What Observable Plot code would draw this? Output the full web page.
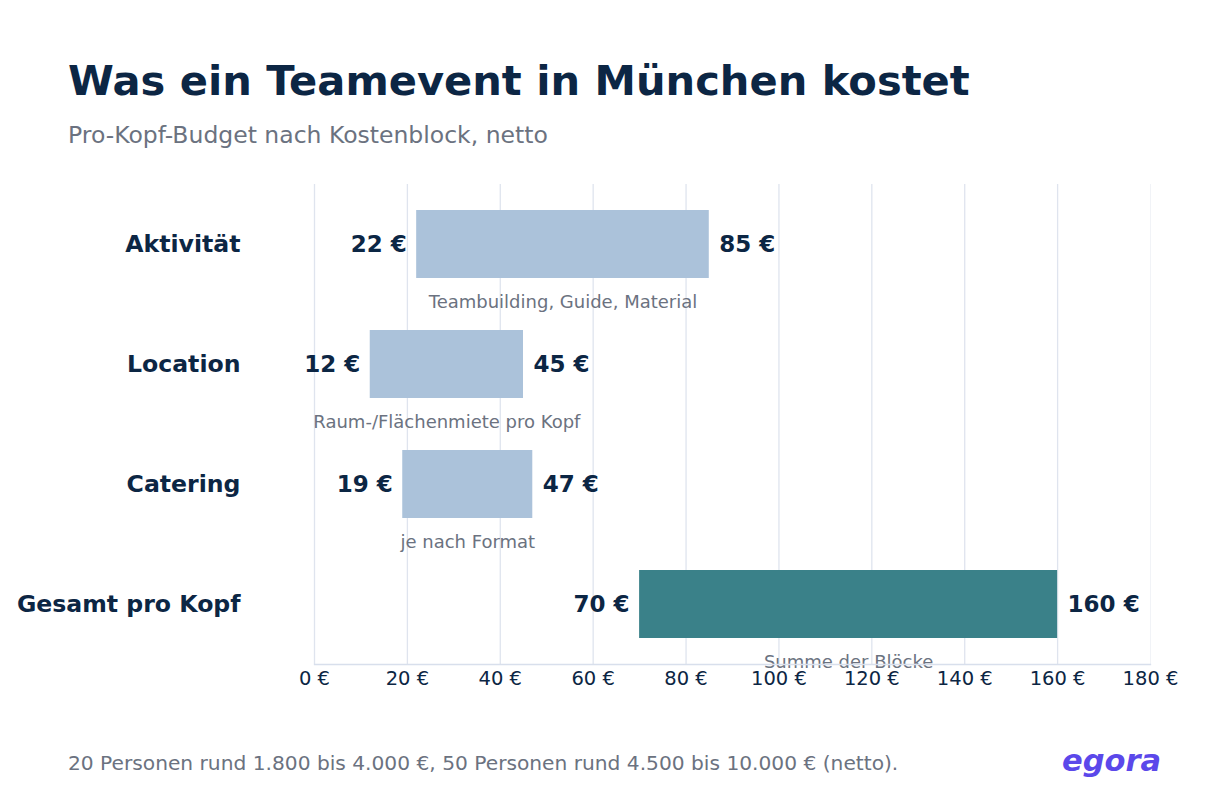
<!DOCTYPE html>
<html>
<head>
<meta charset="utf-8">
<script src="https://cdn.jsdelivr.net/npm/d3@7"></script>
<script src="https://cdn.jsdelivr.net/npm/@observablehq/plot@0.6"></script>
<style>
  html, body { margin: 0; padding: 0; background: #ffffff; }
  body { width: 1230px; height: 800px; position: relative; overflow: hidden; font-family: "DejaVu Sans", sans-serif; }
  #title { position: absolute; left: 68px; top: 56px; font-size: 41.6px; font-weight: bold; color: #0c2644; white-space: nowrap; }
  #subtitle { position: absolute; left: 68px; top: 121px; font-size: 23.5px; color: #6b7280; white-space: nowrap; }
  #chart { position: absolute; left: 0; top: 0; }
  #footer { position: absolute; left: 68px; top: 751px; font-size: 20.2px; color: #6b7280; white-space: nowrap; }
  #logo { position: absolute; left: 1062px; top: 743px; font-size: 30.5px; font-weight: bold; font-style: italic; color: #5b48ea; }
</style>
</head>
<body>
<div id="chart"></div>
<div id="title">Was ein Teamevent in München kostet</div>
<div id="subtitle">Pro-Kopf-Budget nach Kostenblock, netto</div>
<div id="footer">20 Personen rund 1.800 bis 4.000 €, 50 Personen rund 4.500 bis 10.000 € (netto).</div>
<div id="logo">egora</div>
<script>
const categories = ["Aktivität", "Location", "Catering", "Gesamt pro Kopf"];
const lowValues = [22, 12, 19, 70];
const highValues = [85, 45, 47, 160];
const notes = ["Teambuilding, Guide, Material", "Raum-/Flächenmiete pro Kopf", "je nach Format", "Summe der Blöcke"];
const barColors = ["#abc2da", "#abc2da", "#abc2da", "#3a8189"];
const xTicks = [0, 20, 40, 60, 80, 100, 120, 140, 160, 180];

const rows = categories.map((c, i) => ({
  cat: c, low: lowValues[i], high: highValues[i], note: notes[i], color: barColors[i]
}));

const navy = "#0c2644";
const gray = "#6b7280";

const chart = Plot.plot({
  width: 1230,
  height: 700,
  marginTop: 184,
  marginBottom: 36,
  marginLeft: 314,
  marginRight: 80,
  style: { fontFamily: "DejaVu Sans, sans-serif", background: "transparent", overflow: "visible" },
  x: { domain: [0, 180] },
  y: { domain: categories, padding: 0 },
  marks: [
    Plot.ruleX(xTicks.slice(0, -1), { stroke: "#dfe4ee", strokeWidth: 1.3 }),
    Plot.ruleX([180], { stroke: "#f1f3f7", strokeWidth: 1 }),
    Plot.barX(rows, {
      x1: "low", x2: "high", y: "cat", fill: "color",
      insetTop: 26, insetBottom: 26
    }),
    Plot.text(rows, {
      x: "low", y: "cat", text: d => `${d.low} €`, textAnchor: "end", dx: -10,
      fill: navy, fontSize: 23, fontWeight: "bold"
    }),
    Plot.text(rows, {
      x: "high", y: "cat", text: d => `${d.high} €`, textAnchor: "start", dx: 10,
      fill: navy, fontSize: 23, fontWeight: "bold"
    }),
    Plot.text(rows, {
      x: d => (d.low + d.high) / 2, y: "cat", text: "note", dy: 58,
      fill: gray, fontSize: 18
    }),
    Plot.axisX({
      ticks: xTicks, tickFormat: d => `${d} €`, tickSize: 0, tickPadding: 7,
      fontSize: 19.5, color: navy, label: null
    }),
    Plot.axisY({
      tickSize: 0, tickPadding: 74, fontSize: 23.6, fontWeight: "bold", color: navy, label: null
    }),
    Plot.frame({ anchor: "bottom", stroke: "#d8dfec", strokeWidth: 1.3 })
  ]
});
document.getElementById("chart").appendChild(chart);
</script>
</body>
</html>
